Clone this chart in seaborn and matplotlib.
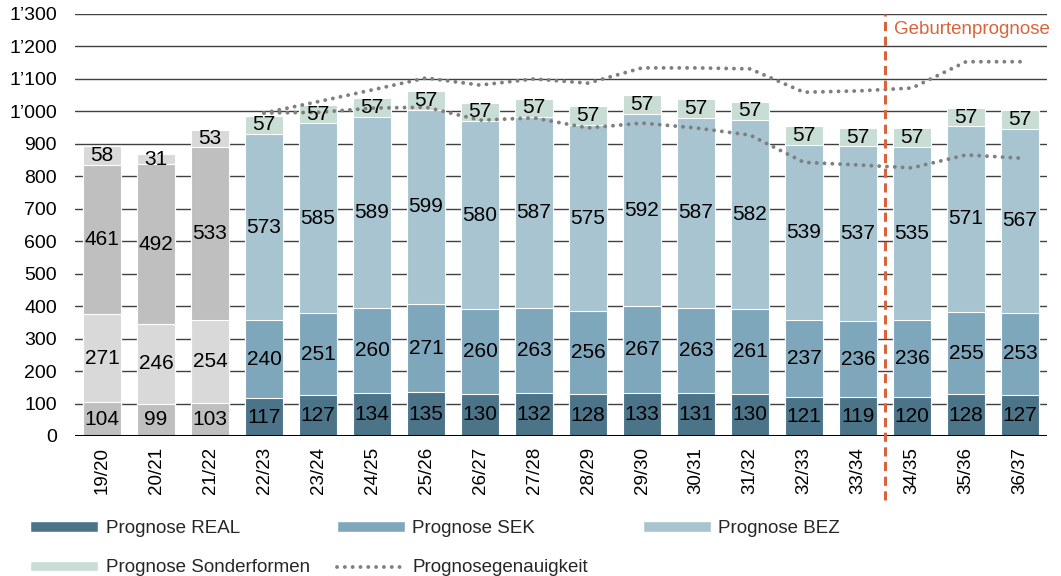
import numpy as np
import matplotlib
matplotlib.use("Agg")
import matplotlib.pyplot as plt
from matplotlib.patches import Patch
from matplotlib.lines import Line2D
from matplotlib.ticker import FuncFormatter
import seaborn as sns

# School years
years = ["19/20", "20/21", "21/22", "22/23", "23/24", "24/25", "25/26", "26/27",
         "27/28", "28/29", "29/30", "30/31", "31/32", "32/33", "33/34", "34/35",
         "35/36", "36/37"]

# Pupil counts per school type (first three years are actual values)
real = [104, 99, 103, 117, 127, 134, 135, 130, 132, 128, 133, 131, 130, 121, 119, 120, 128, 127]
sek = [271, 246, 254, 240, 251, 260, 271, 260, 263, 256, 267, 263, 261, 237, 236, 236, 255, 253]
bez = [461, 492, 533, 573, 585, 589, 599, 580, 587, 575, 592, 587, 582, 539, 537, 535, 571, 567]
sonder = [58, 31, 53, 57, 57, 57, 57, 57, 57, 57, 57, 57, 57, 57, 57, 57, 57, 57]
n_actual = 3

# Forecast accuracy band (from 22/23 onwards)
band_upper = [995, 1030, 1066, 1103, 1081, 1100, 1087, 1134, 1134, 1131, 1059, 1063, 1072, 1153, 1153]
band_lower = [995, 997, 1010, 1013, 973, 980, 949, 964, 949, 927, 843, 835, 826, 866, 856]

series_labels = ["Prognose REAL", "Prognose SEK", "Prognose BEZ", "Prognose Sonderformen"]
forecast_colors = ["#4B7489", "#7FA7BB", "#A7C4D0", "#C8DDD4"]
actual_colors = ["#BFBFBF", "#D9D9D9", "#BFBFBF", "#D9D9D9"]
orange = "#D9643C"
dot_grey = "#7F7F7F"

sns.set_theme(style="white")
plt.rcParams["font.family"] = ["Liberation Sans", "DejaVu Sans"]
FS = 13.5

fig, ax = plt.subplots(figsize=(10.61, 5.76), dpi=100)
fig.subplots_adjust(left=75 / 1061, right=1047 / 1061, top=1 - 14 / 576, bottom=1 - 436 / 576)

layers = [real, sek, bez, sonder]
cum = np.cumsum(np.array(layers, dtype=float), axis=0)

# Stacked bars: draw cumulative totals from the top layer downwards
for k in range(len(layers) - 1, -1, -1):
    pal = [actual_colors[k] if i < n_actual else forecast_colors[k] for i in range(len(years))]
    sns.barplot(x=years, y=cum[k], hue=years, palette=pal, legend=False,
                width=0.72, saturation=1, edgecolor="white", linewidth=0.8,
                ax=ax, zorder=2)

# Segment value labels
for k, vals in enumerate(layers):
    bottoms = cum[k] - np.array(vals)
    for i, v in enumerate(vals):
        ax.text(i, bottoms[i] + v / 2, f"{v}", ha="center", va="center",
                fontsize=15, color="black", zorder=6)

# Forecast accuracy band
xb = np.arange(n_actual, len(years))
ax.plot(xb, band_upper, color=dot_grey, lw=2.8, linestyle=(0, (0.01, 2.0)),
        dash_capstyle="round", zorder=5)
ax.plot(xb, band_lower, color=dot_grey, lw=2.8, linestyle=(0, (0.01, 2.0)),
        dash_capstyle="round", zorder=5)

# Axes styling
ax.set_xlim(-0.5, len(years) - 0.5)
ax.set_ylim(0, 1300)
ax.set_yticks(np.arange(0, 1301, 100))
ax.yaxis.set_major_formatter(FuncFormatter(lambda v, p: f"{int(v):,}".replace(",", "\u2019")))
ax.grid(axis="y", color="#404040", lw=1)
ax.grid(axis="x", visible=False)
ax.set_axisbelow(True)
for s in ax.spines.values():
    s.set_visible(False)
ax.axhline(0, color="black", lw=2.2, zorder=4)
ax.tick_params(axis="y", labelsize=14, length=0, pad=13, colors="black")
ax.tick_params(axis="x", labelsize=FS, length=0, pad=8, colors="black", rotation=90)
ax.set_xlabel("")
ax.set_ylabel("")

# Start of the birth-based forecast
ax.axvline(14.5, ymin=-0.152, ymax=1.0, color=orange, lw=2.2,
           linestyle=(0, (3.0, 1.8)), clip_on=False, zorder=5)
ax.text(14.66, 1251, "Geburtenprognose", color=orange, fontsize=FS,
        ha="left", va="center")

# Legend, three columns
rect = dict(handlelength=68 / (FS * 100 / 72), handleheight=0.5, handletextpad=0.4,
            frameon=False, fontsize=FS, borderpad=0, labelspacing=1.2,
            borderaxespad=0)
h_real = Patch(facecolor=forecast_colors[0], label=series_labels[0])
h_sek = Patch(facecolor=forecast_colors[1], label=series_labels[1])
h_bez = Patch(facecolor=forecast_colors[2], label=series_labels[2])
h_son = Patch(facecolor=forecast_colors[3], label=series_labels[3])
h_band = Line2D([], [], color=dot_grey, lw=2.8, linestyle=(0, (0.01, 2.0)),
                dash_capstyle="round", label="Prognosegenauigkeit")
top_y = 1 - 520 / 576
fig.legend(handles=[h_real, h_son], loc="upper left", bbox_to_anchor=(30 / 1061, top_y), **rect)
fig.legend(handles=[h_sek, h_band], loc="upper left", bbox_to_anchor=(337 / 1061, top_y), **rect)
fig.legend(handles=[h_bez], loc="upper left", bbox_to_anchor=(643 / 1061, top_y), **rect)

fig.savefig("out.png", dpi=100)
